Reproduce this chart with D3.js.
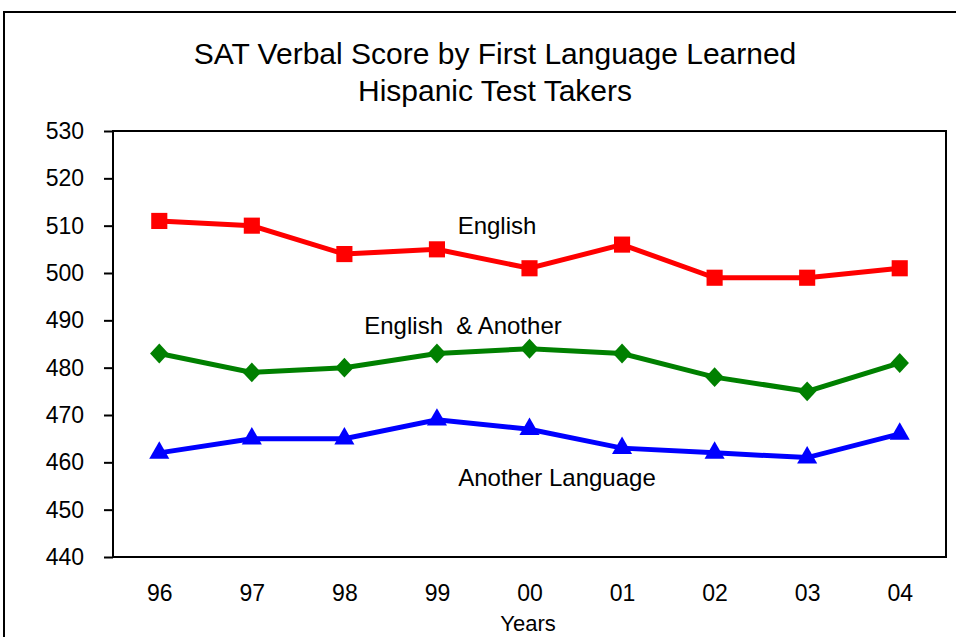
<!DOCTYPE html>
<html><head><meta charset="utf-8">
<script src="https://cdn.jsdelivr.net/npm/d3@7"></script>
<style>body{margin:0;background:#fff}svg{display:block;font-family:"Liberation Sans",Arial,sans-serif}</style>
</head><body>
<script>
const years = ["96","97","98","99","00","01","02","03","04"];
const english = [511,510,504,505,501,506,499,499,501];
const englishAnother = [483,479,480,483,484,483,478,475,481];
const anotherLanguage = [462,465,465,469,467,463,462,461,466];
const yTicks = [440,450,460,470,480,490,500,510,520,530];
const titleLines = ["SAT Verbal Score by First Language Learned","Hispanic Test Takers"];

const W=956,H=637;
const svg=d3.select("body").append("svg").attr("width",W).attr("height",H);
svg.append("rect").attr("width",W).attr("height",H).attr("fill","#fff");
// outer frame
svg.append("path").attr("d",`M4,${H+5} L4,12 L${W+5},12`).attr("fill","none").attr("stroke","#000").attr("stroke-width",2);

const L=113,R=946,T=131,B=557;
const x=d3.scalePoint().domain(years).range([L,R]).padding(0.5);
const y=d3.scaleLinear().domain([440,530]).range([B,T]);

svg.selectAll(".title").data(titleLines).join("text")
  .attr("x",495).attr("y",(d,i)=>64+i*37).attr("text-anchor","middle")
  .attr("font-size",30).text(d=>d);

const ya=svg.append("g").attr("transform",`translate(${L},0)`)
  .call(d3.axisLeft(y).tickValues(yTicks).tickSize(9).tickPadding(20).tickFormat(d3.format("d")));
ya.select(".domain").remove();
ya.selectAll("line").attr("stroke","#000").attr("stroke-width",2);
ya.selectAll("text").attr("font-size",23).attr("fill","#000").attr("font-family","Liberation Sans, Arial, sans-serif");

const xa=svg.append("g").attr("transform",`translate(0,${B})`)
  .call(d3.axisBottom(x).tickSize(0).tickPadding(28));
xa.select(".domain").remove();
xa.selectAll("text").attr("font-size",23).attr("fill","#000").attr("font-family","Liberation Sans, Arial, sans-serif");

svg.append("rect").attr("x",L).attr("y",T).attr("width",R-L).attr("height",B-T)
  .attr("fill","none").attr("stroke","#000").attr("stroke-width",2);

svg.append("text").attr("x",528).attr("y",631).attr("text-anchor","middle").attr("font-size",22).text("Years");

const wideDiamond={draw(ctx,size){const r=Math.sqrt(size/2);ctx.moveTo(0,-r*1.08);ctx.lineTo(r,0);ctx.lineTo(0,r*1.08);ctx.lineTo(-r,0);ctx.closePath();}};

const series=[
  {vals:english,color:"#ff0000",shape:d3.symbolSquare,size:260,label:"English",lx:497,ly:234},
  {vals:englishAnother,color:"#008000",shape:wideDiamond,size:170,label:"English  & Another",lx:463,ly:334},
  {vals:anotherLanguage,color:"#0000ff",shape:d3.symbolTriangle,size:175,label:"Another Language",lx:557,ly:486}
];
const line=d3.line().x((d,i)=>x(years[i])).y(d=>y(d));
series.forEach(s=>{
  svg.append("path").attr("d",line(s.vals)).attr("fill","none").attr("stroke",s.color).attr("stroke-width",5).attr("stroke-linejoin","miter");
  svg.selectAll(null).data(s.vals).join("path")
    .attr("transform",(d,i)=>`translate(${x(years[i])},${y(d)})`)
    .attr("d",d3.symbol().type(s.shape).size(s.size)).attr("fill",s.color);
  svg.append("text").attr("x",s.lx).attr("y",s.ly).attr("text-anchor","middle").attr("font-size",24)
    .style("white-space","pre").attr("xml:space","preserve").text(s.label);
});
</script>
</body></html>
